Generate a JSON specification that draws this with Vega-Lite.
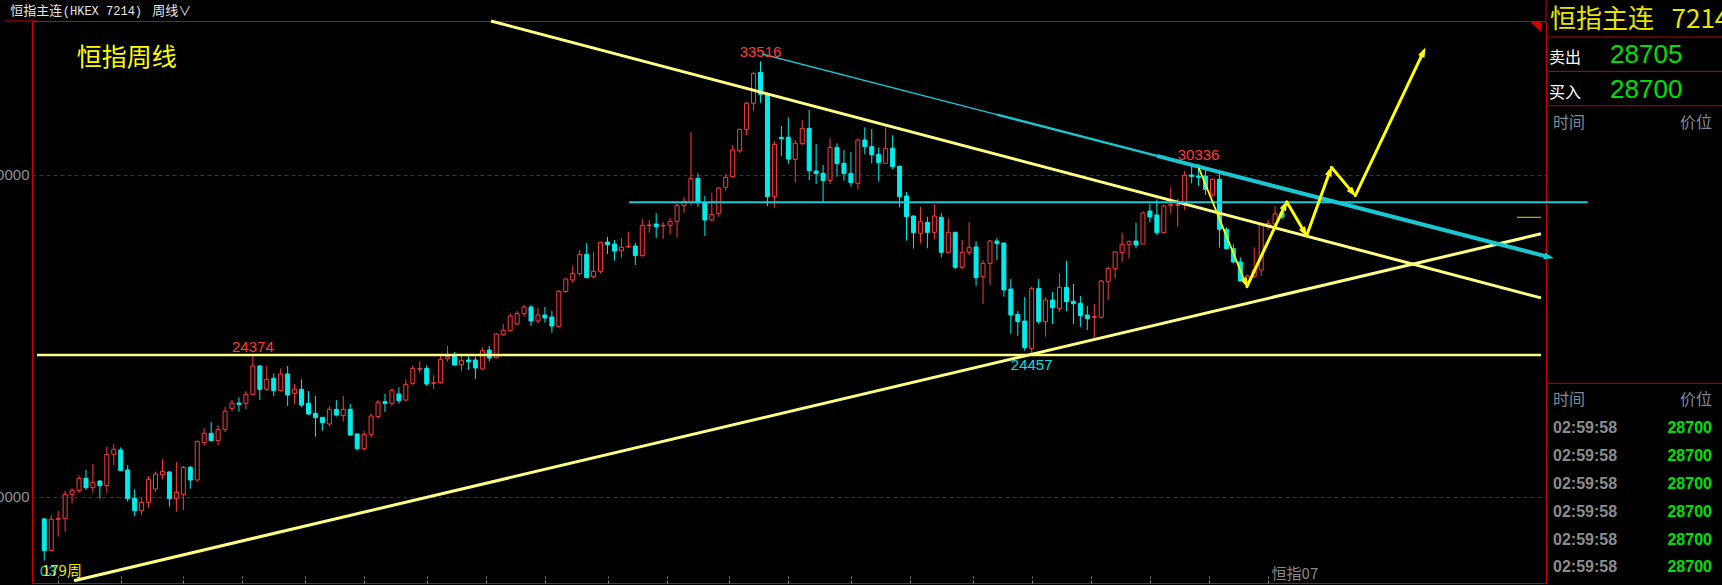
{
  "$schema": "https://vega.github.io/schema/vega-lite/v6.json",
  "width": 1514,
  "height": 562,
  "autosize": {"type": "none"},
  "padding": {"left": 32, "top": 21, "right": 176, "bottom": 2},
  "background": "#000000",
  "config": {"view": {"stroke": "#D00000", "strokeWidth": 1}, "font": "Liberation Sans"},
  "datasets": {
    "candles": [
      {"i":0,"o":19303,"h":19334,"l":18009,"c":18320},
      {"i":1,"o":18320,"h":19427,"l":18289,"c":19293},
      {"i":2,"o":19293,"h":19552,"l":18754,"c":19324},
      {"i":3,"o":19324,"h":20173,"l":18910,"c":20069},
      {"i":4,"o":20069,"h":20256,"l":19790,"c":20194},
      {"i":5,"o":20183,"h":20659,"l":20121,"c":20566},
      {"i":6,"o":20566,"h":20825,"l":20204,"c":20276},
      {"i":7,"o":20276,"h":21011,"l":20121,"c":20442},
      {"i":8,"o":20483,"h":20514,"l":19935,"c":20338},
      {"i":9,"o":20338,"h":21550,"l":20121,"c":21312},
      {"i":10,"o":21312,"h":21633,"l":20980,"c":21467},
      {"i":11,"o":21446,"h":21529,"l":20804,"c":20804},
      {"i":12,"o":20825,"h":20980,"l":19841,"c":19935},
      {"i":13,"o":19945,"h":20225,"l":19396,"c":19562},
      {"i":14,"o":19562,"h":19976,"l":19427,"c":19821},
      {"i":15,"o":19821,"h":20639,"l":19655,"c":20535},
      {"i":16,"o":20235,"h":20773,"l":20152,"c":20701},
      {"i":17,"o":20680,"h":21156,"l":20535,"c":20784},
      {"i":18,"o":20763,"h":20794,"l":19686,"c":19935},
      {"i":19,"o":19935,"h":21074,"l":19531,"c":20131},
      {"i":20,"o":20069,"h":20949,"l":19583,"c":20908},
      {"i":21,"o":20908,"h":20949,"l":20245,"c":20514},
      {"i":22,"o":20514,"h":21736,"l":20463,"c":21715},
      {"i":23,"o":21674,"h":22119,"l":21581,"c":21964},
      {"i":24,"o":21964,"h":22316,"l":21736,"c":21736},
      {"i":25,"o":21736,"h":22223,"l":21602,"c":22088},
      {"i":26,"o":22088,"h":22780,"l":22000,"c":22650},
      {"i":27,"o":22740,"h":23000,"l":22650,"c":22900},
      {"i":28,"o":22906,"h":23082,"l":22637,"c":22865},
      {"i":29,"o":22896,"h":23279,"l":22709,"c":23175},
      {"i":30,"o":23175,"h":24374,"l":23155,"c":24055},
      {"i":31,"o":24055,"h":24086,"l":22999,"c":23331},
      {"i":32,"o":23331,"h":24055,"l":23289,"c":23641},
      {"i":33,"o":23672,"h":23828,"l":23124,"c":23289},
      {"i":34,"o":23289,"h":23983,"l":23258,"c":23807},
      {"i":35,"o":23807,"h":24055,"l":22813,"c":23155},
      {"i":36,"o":23206,"h":23496,"l":22875,"c":23331},
      {"i":37,"o":23331,"h":23641,"l":22772,"c":22844},
      {"i":38,"o":22896,"h":23279,"l":22533,"c":22564},
      {"i":39,"o":22585,"h":23124,"l":21860,"c":22451},
      {"i":40,"o":22461,"h":22461,"l":22047,"c":22295},
      {"i":41,"o":22254,"h":22813,"l":22171,"c":22709},
      {"i":42,"o":22709,"h":22999,"l":22482,"c":22533},
      {"i":43,"o":22513,"h":23124,"l":22326,"c":22709},
      {"i":44,"o":22709,"h":22875,"l":21881,"c":21912},
      {"i":45,"o":21943,"h":21964,"l":21426,"c":21488},
      {"i":46,"o":21488,"h":22036,"l":21426,"c":21933},
      {"i":47,"o":21933,"h":22585,"l":21829,"c":22502},
      {"i":48,"o":22482,"h":22999,"l":22420,"c":22927},
      {"i":49,"o":22947,"h":23186,"l":22627,"c":22896},
      {"i":50,"o":22896,"h":23362,"l":22823,"c":23300},
      {"i":51,"o":23186,"h":23393,"l":22896,"c":22979},
      {"i":52,"o":22999,"h":23641,"l":22968,"c":23486},
      {"i":53,"o":23517,"h":24076,"l":23465,"c":23983},
      {"i":54,"o":23952,"h":24211,"l":23848,"c":23973},
      {"i":55,"o":23983,"h":24076,"l":23434,"c":23496},
      {"i":56,"o":23517,"h":23776,"l":23341,"c":23538},
      {"i":57,"o":23538,"h":24366,"l":23507,"c":24262},
      {"i":58,"o":24283,"h":24676,"l":24190,"c":24345},
      {"i":59,"o":24387,"h":24490,"l":24066,"c":24086},
      {"i":60,"o":24097,"h":24366,"l":23900,"c":24231},
      {"i":61,"o":24242,"h":24366,"l":23931,"c":24190},
      {"i":62,"o":24242,"h":24345,"l":23652,"c":23993},
      {"i":63,"o":23962,"h":24635,"l":23931,"c":24531},
      {"i":64,"o":24552,"h":24676,"l":24189,"c":24303},
      {"i":65,"o":24314,"h":25080,"l":24283,"c":25049},
      {"i":66,"o":25028,"h":25359,"l":24997,"c":25163},
      {"i":67,"o":25152,"h":25691,"l":25132,"c":25608},
      {"i":68,"o":25359,"h":25763,"l":25328,"c":25691},
      {"i":69,"o":25680,"h":25950,"l":25587,"c":25887},
      {"i":70,"o":25887,"h":25950,"l":25297,"c":25453},
      {"i":71,"o":25453,"h":25856,"l":25370,"c":25639},
      {"i":72,"o":25639,"h":25887,"l":25401,"c":25546},
      {"i":73,"o":25577,"h":25763,"l":25090,"c":25297},
      {"i":74,"o":25276,"h":26415,"l":25245,"c":26374},
      {"i":75,"o":26364,"h":26778,"l":26333,"c":26757},
      {"i":76,"o":26726,"h":27161,"l":26643,"c":26933},
      {"i":77,"o":26923,"h":27658,"l":26861,"c":27523},
      {"i":78,"o":27523,"h":27875,"l":26798,"c":26798},
      {"i":79,"o":26829,"h":27596,"l":26767,"c":26995},
      {"i":80,"o":26995,"h":27896,"l":26923,"c":27896},
      {"i":81,"o":27906,"h":28061,"l":27533,"c":27823},
      {"i":82,"o":27844,"h":27968,"l":27326,"c":27627},
      {"i":83,"o":27637,"h":28030,"l":27420,"c":27741},
      {"i":84,"o":27751,"h":28217,"l":27730,"c":27772},
      {"i":85,"o":27782,"h":27875,"l":27192,"c":27482},
      {"i":86,"o":27482,"h":28621,"l":27451,"c":28424},
      {"i":87,"o":28413,"h":28589,"l":28196,"c":28434},
      {"i":88,"o":28465,"h":28807,"l":28030,"c":28382},
      {"i":89,"o":28403,"h":28527,"l":28010,"c":28424},
      {"i":90,"o":28424,"h":28652,"l":28134,"c":28548},
      {"i":91,"o":28548,"h":29180,"l":28041,"c":29045},
      {"i":92,"o":29045,"h":29304,"l":28817,"c":29169},
      {"i":93,"o":29128,"h":31320,"l":29035,"c":29884},
      {"i":94,"o":29884,"h":30039,"l":29004,"c":29128},
      {"i":95,"o":29128,"h":29335,"l":28093,"c":28589},
      {"i":96,"o":28589,"h":29438,"l":28558,"c":28765},
      {"i":97,"o":28797,"h":29604,"l":28693,"c":29583},
      {"i":98,"o":29605,"h":30019,"l":29501,"c":29915},
      {"i":99,"o":29936,"h":30919,"l":29905,"c":30764},
      {"i":100,"o":30743,"h":31427,"l":30681,"c":31406},
      {"i":101,"o":31406,"h":32265,"l":31230,"c":32214},
      {"i":102,"o":32214,"h":33176,"l":31986,"c":33145},
      {"i":103,"o":33176,"h":33516,"l":32234,"c":32493},
      {"i":104,"o":32493,"h":32545,"l":29025,"c":29315},
      {"i":105,"o":29315,"h":31044,"l":28973,"c":30940},
      {"i":106,"o":31158,"h":31510,"l":30578,"c":31116},
      {"i":107,"o":31158,"h":31779,"l":30329,"c":30485},
      {"i":108,"o":30474,"h":31075,"l":29750,"c":30971},
      {"i":109,"o":30961,"h":31696,"l":30919,"c":31437},
      {"i":110,"o":31437,"h":32006,"l":29832,"c":30122},
      {"i":111,"o":30112,"h":30950,"l":29708,"c":30029},
      {"i":112,"o":30039,"h":30298,"l":29128,"c":29812},
      {"i":113,"o":29822,"h":31126,"l":29708,"c":30847},
      {"i":114,"o":30847,"h":30971,"l":29936,"c":30340},
      {"i":115,"o":30350,"h":30764,"l":29812,"c":30029},
      {"i":116,"o":30039,"h":30702,"l":29625,"c":29750},
      {"i":117,"o":29729,"h":31126,"l":29542,"c":31075},
      {"i":118,"o":31075,"h":31468,"l":30630,"c":30868},
      {"i":119,"o":30868,"h":31416,"l":30350,"c":30619},
      {"i":120,"o":30630,"h":30847,"l":29781,"c":30371},
      {"i":121,"o":30350,"h":31468,"l":30329,"c":30816},
      {"i":122,"o":30816,"h":31220,"l":30174,"c":30246},
      {"i":123,"o":30257,"h":30288,"l":28983,"c":29315},
      {"i":124,"o":29336,"h":29460,"l":27948,"c":28693},
      {"i":125,"o":28714,"h":28735,"l":27700,"c":28197},
      {"i":126,"o":28176,"h":29004,"l":27865,"c":28538},
      {"i":127,"o":28518,"h":28693,"l":27710,"c":28207},
      {"i":128,"o":28207,"h":29087,"l":27989,"c":28714},
      {"i":129,"o":28673,"h":28797,"l":27430,"c":27586},
      {"i":130,"o":27586,"h":28642,"l":27555,"c":28207},
      {"i":131,"o":28207,"h":28228,"l":27058,"c":27120},
      {"i":132,"o":27120,"h":27969,"l":27058,"c":27586},
      {"i":133,"o":27586,"h":28518,"l":27503,"c":27741},
      {"i":134,"o":27751,"h":27937,"l":26540,"c":26799},
      {"i":135,"o":26830,"h":27347,"l":25981,"c":27244},
      {"i":136,"o":27244,"h":27968,"l":26571,"c":27937},
      {"i":137,"o":27937,"h":28031,"l":27347,"c":27855},
      {"i":138,"o":27875,"h":27875,"l":26208,"c":26416},
      {"i":139,"o":26447,"h":26757,"l":25049,"c":25639},
      {"i":140,"o":25660,"h":25763,"l":24987,"c":25432},
      {"i":141,"o":25453,"h":26208,"l":24531,"c":24624},
      {"i":142,"o":24604,"h":26519,"l":24457,"c":26467},
      {"i":143,"o":26467,"h":26757,"l":25360,"c":25432},
      {"i":144,"o":25432,"h":26188,"l":24966,"c":26105},
      {"i":145,"o":26105,"h":26353,"l":25360,"c":25867},
      {"i":146,"o":25836,"h":26933,"l":25743,"c":26498},
      {"i":147,"o":26498,"h":27316,"l":25763,"c":26053},
      {"i":148,"o":26064,"h":26602,"l":25360,"c":25991},
      {"i":149,"o":26001,"h":26229,"l":25277,"c":25618},
      {"i":150,"o":25639,"h":25919,"l":25173,"c":25525},
      {"i":151,"o":25567,"h":25981,"l":24883,"c":25587},
      {"i":152,"o":25567,"h":26726,"l":25536,"c":26695},
      {"i":153,"o":26674,"h":27140,"l":26105,"c":27088},
      {"i":154,"o":27078,"h":27616,"l":26778,"c":27596},
      {"i":155,"o":27575,"h":28196,"l":27285,"c":27834},
      {"i":156,"o":27834,"h":27948,"l":27399,"c":27927},
      {"i":157,"o":27937,"h":28507,"l":27710,"c":27813},
      {"i":158,"o":27844,"h":28859,"l":27844,"c":28807},
      {"i":159,"o":28869,"h":29087,"l":28517,"c":28683},
      {"i":160,"o":28745,"h":29232,"l":28124,"c":28197},
      {"i":161,"o":28197,"h":29076,"l":28176,"c":29025},
      {"i":162,"o":29045,"h":29604,"l":28797,"c":29076},
      {"i":163,"o":29045,"h":29252,"l":28383,"c":29066},
      {"i":164,"o":29056,"h":30112,"l":28900,"c":29977},
      {"i":165,"o":29988,"h":30298,"l":29729,"c":29946},
      {"i":166,"o":29956,"h":30336,"l":29646,"c":29915},
      {"i":167,"o":29956,"h":30143,"l":29366,"c":29542},
      {"i":168,"o":29366,"h":29884,"l":29315,"c":29853},
      {"i":169,"o":29853,"h":30019,"l":27731,"c":28300},
      {"i":170,"o":28300,"h":28362,"l":27679,"c":27700},
      {"i":171,"o":27700,"h":27834,"l":27244,"c":27285},
      {"i":172,"o":27285,"h":27430,"l":26675,"c":26695},
      {"i":173,"o":26695,"h":26882,"l":26571,"c":26851},
      {"i":174,"o":26830,"h":27741,"l":26799,"c":27037},
      {"i":175,"o":27037,"h":28507,"l":26851,"c":28486},
      {"i":176,"o":28383,"h":28590,"l":28279,"c":28486},
      {"i":177,"o":28466,"h":29025,"l":28383,"c":28776},
      {"i":178,"o":28818,"h":28849,"l":28611,"c":28680}
    ],
    "lines": [
      {"seg":"trend","i":64.24,"p":34771,"i2":215.24,"p2":26170},
      {"seg":"trend","i":4.29,"p":17387,"i2":215.24,"p2":28161},
      {"seg":"base","i":-1.043,"p":24400,"i2":215.24,"p2":24400},
      {"seg":"cyanH","i":84.1,"p":29138,"i2":221.96,"p2":29138},
      {"seg":"cyanThin","i":103.2,"p":33746,"i2":137,"p2":31863},
      {"seg":"cyanMid","i":137,"p":31863,"i2":160,"p2":30581},
      {"seg":"cyanThick","i":160,"p":30581,"i2":216.4,"p2":27438},
      {"seg":"projThin","i":166.06,"p":30190,"i2":172.74,"p2":26633},
      {"seg":"proj","i":172.96,"p":26518,"i2":178.43,"p2":29046},
      {"seg":"proj","i":178.67,"p":29158,"i2":181.24,"p2":28208},
      {"seg":"proj","i":181.53,"p":28102,"i2":184.9,"p2":30109},
      {"seg":"proj","i":185.1,"p":30227,"i2":188.16,"p2":29441},
      {"seg":"proj","i":188.53,"p":29345,"i2":198.33,"p2":33811},
      {"seg":"last","i":211.8,"p":28674,"i2":215.24,"p2":28674},
      {"seg":"frame","i":-5.7,"p":34771,"i2":-1.043,"p2":34771}
    ],
    "heads": [
      {"kind":"proj","i":172.74,"p":26633,"bearing":157.5},
      {"kind":"proj","i":178.43,"p":29046,"bearing":25.2},
      {"kind":"proj","i":181.24,"p":28208,"bearing":149.5},
      {"kind":"proj","i":184.9,"p":30109,"bearing":20.1},
      {"kind":"proj","i":188.16,"p":29441,"bearing":139.8},
      {"kind":"proj","i":198.33,"p":33811,"bearing":25.5},
      {"kind":"cyan","i":216.4,"p":27438,"bearing":104.4}
    ],
    "labels": [
      {"i":103,"p":33516,"text":"33516","kind":"high"},
      {"i":166,"p":30336,"text":"30336","kind":"high"},
      {"i":30,"p":24374,"text":"24374","kind":"high"},
      {"i":142,"p":24457,"text":"24457","kind":"low"}
    ],
    "notes": [
      {"i":4.67,"p":33637,"text":"恒指周线","kind":"title"},
      {"i":-0.6,"p":17703,"text":"03","kind":"count0"},
      {"i":-0.33,"p":17703,"text":"179周","kind":"count"},
      {"i":176.5,"p":17595,"text":"恒指07","kind":"contract"},
      {"i":214.47,"p":34581,"text":"","kind":"flag"},
      {"i":-4.9,"p":35081,"text":"恒指主连","kind":"hdrCJK"},
      {"i":2.67,"p":35081,"text":"(HKEX 7214)","kind":"hdrMono"},
      {"i":15.53,"p":35081,"text":"周线∨","kind":"hdrCJK"}
    ],
    "panelTop": [
      {"row":0,"name":"恒指主连\u00a0\u00a0\u00a07214","value":""},
      {"row":1,"name":"卖出","value":"28705"},
      {"row":2,"name":"买入","value":"28700"},
      {"row":3,"name":"时间","value":"价位"}
    ],
    "panelTicks": [
      {"row":0,"time":"时间","price":"价位"},
      {"row":1,"time":"02:59:58","price":"28700"},
      {"row":2,"time":"02:59:58","price":"28700"},
      {"row":3,"time":"02:59:58","price":"28700"},
      {"row":4,"time":"02:59:58","price":"28700"},
      {"row":5,"time":"02:59:58","price":"28700"},
      {"row":6,"time":"02:59:58","price":"28700"}
    ]
  },
  "layer": [
    {
      "layer": [
        {
          "data": {"name": "candles"},
          "mark": {"type": "rule", "strokeWidth": 1},
          "encoding": {
            "x": {"field": "i", "type": "quantitative", "scale": {"domain": [-1.043, 215.24], "nice": false, "zero": false},
                  "axis": {"values": [2,6.5,11,15.5,20,24,28.5,33,37.5,41.5,46,50.5,55,59,63.5,68,72,76.5,81,85.5,89.5,94,98.5,103,107,111.5,116,120,124.5,129,133.5,137.5,142,146.5,150.5,155,159,163,167.5,172,176],
                           "labels": false, "domain": false, "grid": false, "ticks": true, "tickSize": -7, "tickColor": "#808080", "tickDash": [3, 2], "title": null}},
            "y": {"field": "l", "type": "quantitative", "scale": {"domain": [17315, 34771], "nice": false, "zero": false},
                  "axis": {"values": [20000, 30000], "format": "d", "grid": true, "gridColor": "#B00000", "gridDash": [4, 3], "gridWidth": 1, "ticks": false, "tickSize": 0, "domain": false, "labelColor": "#909090", "labelFontSize": 15, "labelPadding": 3, "labelFont": "Liberation Sans", "title": null}},
            "y2": {"field": "h"},
            "color": {"condition": {"test": "datum.c >= datum.o", "value": "#FF3B3B"}, "value": "#00EDED"}
          }
        },
        {
          "data": {"name": "candles"},
          "mark": {"type": "bar", "size": 4, "strokeWidth": 1},
          "encoding": {
            "x": {"field": "i", "type": "quantitative"},
            "y": {"field": "o", "type": "quantitative"},
            "y2": {"field": "c"},
            "fill": {"condition": {"test": "datum.c >= datum.o", "value": "#000000"}, "value": "#00EDED"},
            "stroke": {"condition": {"test": "datum.c >= datum.o", "value": "#FF3B3B"}, "value": "#00EDED"}
          }
        },
        {
          "data": {"name": "lines"},
          "transform": [{"filter": "datum.seg == 'trend'"}],
          "mark": {"type": "rule", "strokeWidth": 3, "color": "#FFFF84"},
          "encoding": {"x": {"field": "i", "type": "quantitative"}, "x2": {"field": "i2"}, "y": {"field": "p", "type": "quantitative"}, "y2": {"field": "p2"}}
        },
        {
          "data": {"name": "lines"},
          "transform": [{"filter": "datum.seg == 'base'"}],
          "mark": {"type": "rule", "strokeWidth": 2.5, "color": "#FFFF84"},
          "encoding": {"x": {"field": "i", "type": "quantitative"}, "x2": {"field": "i2"}, "y": {"field": "p", "type": "quantitative"}, "y2": {"field": "p2"}}
        },
        {
          "data": {"name": "lines"},
          "transform": [{"filter": "datum.seg == 'frame'"}],
          "mark": {"type": "rule", "strokeWidth": 1, "color": "#D00000"},
          "encoding": {"x": {"field": "i", "type": "quantitative"}, "x2": {"field": "i2"}, "y": {"field": "p", "type": "quantitative"}, "y2": {"field": "p2"}}
        },
        {
          "data": {"name": "lines"},
          "transform": [{"filter": "datum.seg == 'cyanH'"}],
          "mark": {"type": "rule", "strokeWidth": 2, "color": "#19CCD6"},
          "encoding": {"x": {"field": "i", "type": "quantitative"}, "x2": {"field": "i2"}, "y": {"field": "p", "type": "quantitative"}, "y2": {"field": "p2"}}
        },
        {
          "data": {"name": "lines"},
          "transform": [{"filter": "datum.seg == 'cyanThin'"}],
          "mark": {"type": "rule", "strokeWidth": 1.5, "color": "#19C6D1"},
          "encoding": {"x": {"field": "i", "type": "quantitative"}, "x2": {"field": "i2"}, "y": {"field": "p", "type": "quantitative"}, "y2": {"field": "p2"}}
        },
        {
          "data": {"name": "lines"},
          "transform": [{"filter": "datum.seg == 'cyanMid'"}],
          "mark": {"type": "rule", "strokeWidth": 2.5, "color": "#19C6D1"},
          "encoding": {"x": {"field": "i", "type": "quantitative"}, "x2": {"field": "i2"}, "y": {"field": "p", "type": "quantitative"}, "y2": {"field": "p2"}}
        },
        {
          "data": {"name": "lines"},
          "transform": [{"filter": "datum.seg == 'cyanThick'"}],
          "mark": {"type": "rule", "strokeWidth": 4, "color": "#19C6D1"},
          "encoding": {"x": {"field": "i", "type": "quantitative"}, "x2": {"field": "i2"}, "y": {"field": "p", "type": "quantitative"}, "y2": {"field": "p2"}}
        },
        {
          "data": {"name": "lines"},
          "transform": [{"filter": "datum.seg == 'projThin'"}],
          "mark": {"type": "rule", "strokeWidth": 1.8, "color": "#FFFF00", "strokeCap": "round"},
          "encoding": {"x": {"field": "i", "type": "quantitative"}, "x2": {"field": "i2"}, "y": {"field": "p", "type": "quantitative"}, "y2": {"field": "p2"}}
        },
        {
          "data": {"name": "lines"},
          "transform": [{"filter": "datum.seg == 'proj'"}],
          "mark": {"type": "rule", "strokeWidth": 3, "color": "#FFFF00", "strokeCap": "round"},
          "encoding": {"x": {"field": "i", "type": "quantitative"}, "x2": {"field": "i2"}, "y": {"field": "p", "type": "quantitative"}, "y2": {"field": "p2"}}
        },
        {
          "data": {"name": "lines"},
          "transform": [{"filter": "datum.seg == 'last'"}],
          "mark": {"type": "rule", "strokeWidth": 1, "color": "#E0E000"},
          "encoding": {"x": {"field": "i", "type": "quantitative"}, "x2": {"field": "i2"}, "y": {"field": "p", "type": "quantitative"}, "y2": {"field": "p2"}}
        },
        {
          "data": {"name": "heads"},
          "mark": {"type": "point", "filled": true, "opacity": 1, "shape": "M0,-1L0.7,1L-0.7,1Z", "size": 100},
          "encoding": {
            "x": {"field": "i", "type": "quantitative"},
            "y": {"field": "p", "type": "quantitative"},
            "angle": {"field": "bearing", "type": "quantitative", "scale": null},
            "color": {"condition": {"test": "datum.kind == 'cyan'", "value": "#19C6D1"}, "value": "#FFFF00"}
          }
        },
        {
          "data": {"name": "notes"},
          "transform": [{"filter": "datum.kind == 'flag'"}],
          "mark": {"type": "point", "filled": true, "opacity": 1, "shape": "M-1,-1L1,-1L1,1Z", "size": 121, "color": "#D00000"},
          "encoding": {"x": {"field": "i", "type": "quantitative"}, "y": {"field": "p", "type": "quantitative"}}
        },
        {
          "data": {"name": "labels"},
          "transform": [{"filter": "datum.kind == 'high'"}],
          "mark": {"type": "text", "align": "center", "baseline": "alphabetic", "dy": -4, "fontSize": 15, "font": "Liberation Sans", "color": "#FF3B3B"},
          "encoding": {"x": {"field": "i", "type": "quantitative"}, "y": {"field": "p", "type": "quantitative"}, "text": {"field": "text"}}
        },
        {
          "data": {"name": "labels"},
          "transform": [{"filter": "datum.kind == 'low'"}],
          "mark": {"type": "text", "align": "center", "baseline": "top", "dy": 5, "fontSize": 15, "font": "Liberation Sans", "color": "#00E0E0"},
          "encoding": {"x": {"field": "i", "type": "quantitative"}, "y": {"field": "p", "type": "quantitative"}, "text": {"field": "text"}}
        },
        {
          "data": {"name": "notes"},
          "transform": [{"filter": "datum.kind == 'title'"}],
          "mark": {"type": "text", "align": "left", "baseline": "middle", "fontSize": 25, "font": "Noto Sans CJK SC", "color": "#FFFF00"},
          "encoding": {"x": {"field": "i", "type": "quantitative"}, "y": {"field": "p", "type": "quantitative"}, "text": {"field": "text"}}
        },
        {
          "data": {"name": "notes"},
          "transform": [{"filter": "datum.kind == 'hdrCJK'"}],
          "mark": {"type": "text", "align": "left", "baseline": "middle", "fontSize": 13, "font": "Noto Sans CJK SC", "color": "#E6E6E6"},
          "encoding": {"x": {"field": "i", "type": "quantitative"}, "y": {"field": "p", "type": "quantitative"}, "text": {"field": "text"}}
        },
        {
          "data": {"name": "notes"},
          "transform": [{"filter": "datum.kind == 'hdrMono'"}],
          "mark": {"type": "text", "align": "left", "baseline": "middle", "fontSize": 12, "font": "Liberation Mono", "color": "#E6E6E6"},
          "encoding": {"x": {"field": "i", "type": "quantitative"}, "y": {"field": "p", "type": "quantitative"}, "text": {"field": "text"}}
        },
        {
          "data": {"name": "notes"},
          "transform": [{"filter": "datum.kind == 'count0'"}],
          "mark": {"type": "text", "align": "left", "baseline": "middle", "fontSize": 15, "font": "Liberation Sans", "color": "#00D0D0"},
          "encoding": {"x": {"field": "i", "type": "quantitative"}, "y": {"field": "p", "type": "quantitative"}, "text": {"field": "text"}}
        },
        {
          "data": {"name": "notes"},
          "transform": [{"filter": "datum.kind == 'count'"}],
          "mark": {"type": "text", "align": "left", "baseline": "middle", "fontSize": 15, "font": "Noto Sans CJK SC", "color": "#E6E600"},
          "encoding": {"x": {"field": "i", "type": "quantitative"}, "y": {"field": "p", "type": "quantitative"}, "text": {"field": "text"}}
        },
        {
          "data": {"name": "notes"},
          "transform": [{"filter": "datum.kind == 'contract'"}],
          "mark": {"type": "text", "align": "left", "baseline": "middle", "fontSize": 15, "font": "Noto Sans CJK SC", "color": "#8A8A8A"},
          "encoding": {"x": {"field": "i", "type": "quantitative"}, "y": {"field": "p", "type": "quantitative"}, "text": {"field": "text"}}
        }
      ]
    },
    {
      "data": {"name": "panelTop"},
      "layer": [
        {
          "transform": [{"filter": "datum.row == 0"}],
          "mark": {"type": "text", "align": "left", "baseline": "middle", "fontSize": 26, "font": "Noto Sans CJK SC", "color": "#E6E600"},
          "encoding": {
            "x": {"datum": 0.023, "type": "quantitative", "scale": {"domain": [0, 1], "range": [1514, 1690]}, "axis": null},
            "y": {"field": "row", "type": "quantitative", "scale": {"domain": [0, 3], "range": [-1, 101.9]}, "axis": null},
            "text": {"field": "name"}
          }
        },
        {
          "transform": [{"filter": "datum.row == 1 || datum.row == 2"}],
          "mark": {"type": "text", "align": "left", "baseline": "middle", "dy": 4, "fontSize": 16, "font": "Noto Sans CJK SC", "color": "#FFFFFF"},
          "encoding": {
            "x": {"datum": 0.017, "type": "quantitative"},
            "y": {"field": "row", "type": "quantitative"},
            "text": {"field": "name"}
          }
        },
        {
          "transform": [{"filter": "datum.row == 1 || datum.row == 2"}],
          "mark": {"type": "text", "align": "left", "baseline": "middle", "dy": 1, "fontSize": 26, "font": "Liberation Sans", "color": "#00E000"},
          "encoding": {
            "x": {"datum": 0.364, "type": "quantitative"},
            "y": {"field": "row", "type": "quantitative"},
            "text": {"field": "value"}
          }
        },
        {
          "transform": [{"filter": "datum.row == 3"}],
          "mark": {"type": "text", "align": "left", "baseline": "middle", "fontSize": 16, "font": "Noto Sans CJK SC", "color": "#7D8A9A"},
          "encoding": {
            "x": {"datum": 0.04, "type": "quantitative"},
            "y": {"field": "row", "type": "quantitative"},
            "text": {"field": "name"}
          }
        },
        {
          "transform": [{"filter": "datum.row == 3"}],
          "mark": {"type": "text", "align": "right", "baseline": "middle", "fontSize": 16, "font": "Noto Sans CJK SC", "color": "#7D8A9A"},
          "encoding": {
            "x": {"datum": 0.943, "type": "quantitative"},
            "y": {"field": "row", "type": "quantitative"},
            "text": {"field": "value"}
          }
        },
        {
          "transform": [{"filter": "datum.row >= 1"}],
          "mark": {"type": "rule", "color": "#C00000", "strokeWidth": 1, "yOffset": -17.2},
          "encoding": {
            "x": {"datum": 0, "type": "quantitative"},
            "x2": {"datum": 1},
            "y": {"field": "row", "type": "quantitative"}
          }
        },
        {
          "transform": [{"filter": "datum.row == 0"}],
          "mark": {"type": "rule", "color": "#D00000", "strokeWidth": 1},
          "encoding": {
            "x": {"datum": 0, "type": "quantitative"},
            "y": {"datum": -0.62, "type": "quantitative"},
            "y2": {"datum": 0}
          }
        }
      ]
    },
    {
      "data": {"name": "panelTicks"},
      "layer": [
        {
          "transform": [{"filter": "datum.row == 0"}],
          "mark": {"type": "text", "align": "left", "baseline": "middle", "fontSize": 16, "font": "Noto Sans CJK SC", "color": "#7D8A9A"},
          "encoding": {
            "x": {"datum": 0.04, "type": "quantitative", "scale": {"domain": [0, 1], "range": [1514, 1690]}, "axis": null},
            "y": {"field": "row", "type": "quantitative", "scale": {"domain": [0, 6], "range": [379, 546.4]}, "axis": null},
            "text": {"field": "time"}
          }
        },
        {
          "transform": [{"filter": "datum.row == 0"}],
          "mark": {"type": "text", "align": "right", "baseline": "middle", "fontSize": 16, "font": "Noto Sans CJK SC", "color": "#7D8A9A"},
          "encoding": {
            "x": {"datum": 0.943, "type": "quantitative"},
            "y": {"field": "row", "type": "quantitative"},
            "text": {"field": "price"}
          }
        },
        {
          "transform": [{"filter": "datum.row >= 1"}],
          "mark": {"type": "text", "align": "left", "baseline": "middle", "fontSize": 16, "fontWeight": "bold", "font": "Liberation Sans", "color": "#8C8C8C"},
          "encoding": {
            "x": {"datum": 0.04, "type": "quantitative"},
            "y": {"field": "row", "type": "quantitative"},
            "text": {"field": "time"}
          }
        },
        {
          "transform": [{"filter": "datum.row >= 1"}],
          "mark": {"type": "text", "align": "right", "baseline": "middle", "fontSize": 16, "fontWeight": "bold", "font": "Liberation Sans", "color": "#00E000"},
          "encoding": {
            "x": {"datum": 0.943, "type": "quantitative"},
            "y": {"field": "row", "type": "quantitative"},
            "text": {"field": "price"}
          }
        },
        {
          "transform": [{"filter": "datum.row == 0"}],
          "mark": {"type": "rule", "color": "#C00000", "strokeWidth": 1, "yOffset": -16.7},
          "encoding": {
            "x": {"datum": 0, "type": "quantitative"},
            "x2": {"datum": 1},
            "y": {"field": "row", "type": "quantitative"}
          }
        }
      ]
    }
  ],
  "resolve": {"scale": {"x": "independent", "y": "independent"}}
}
